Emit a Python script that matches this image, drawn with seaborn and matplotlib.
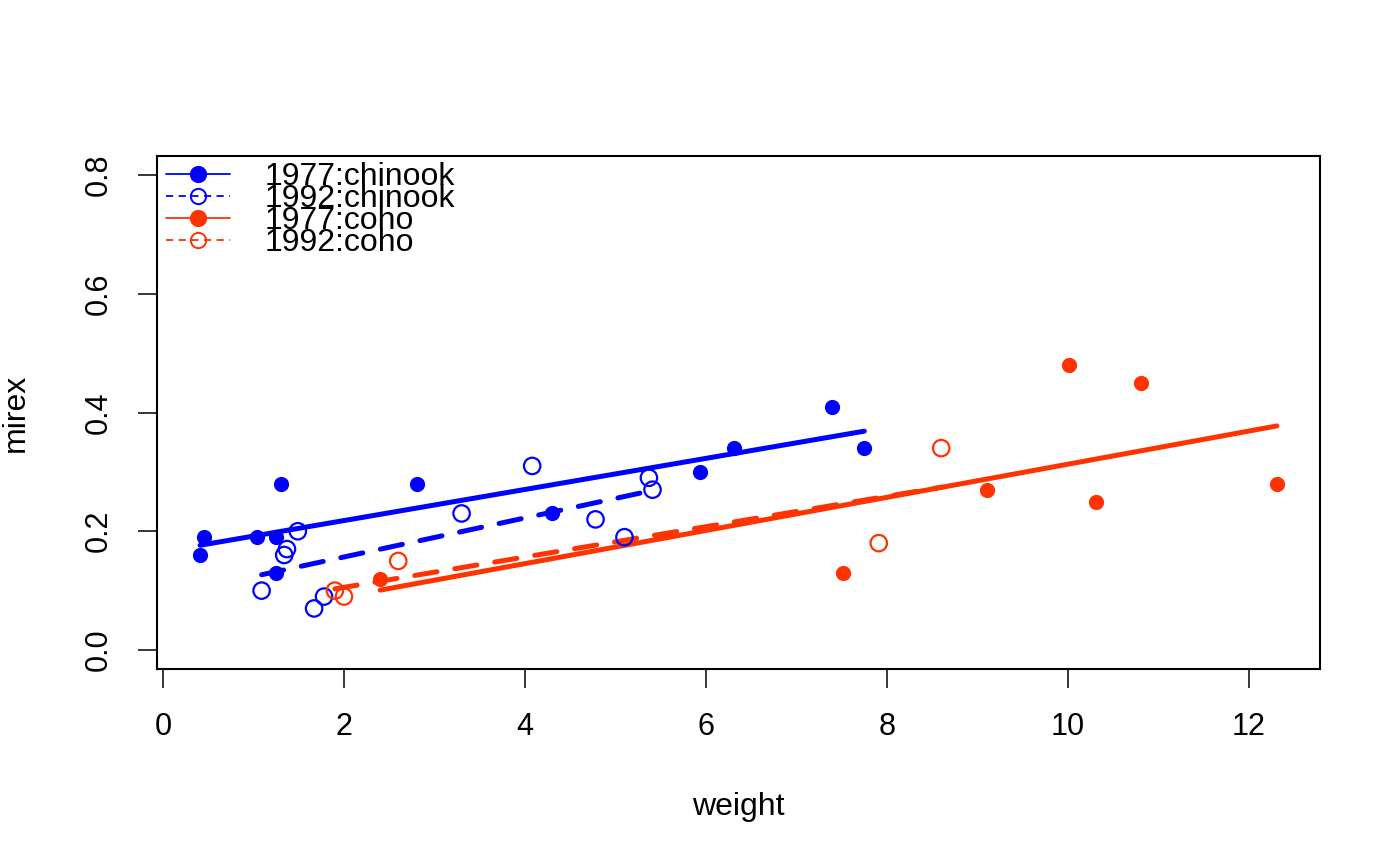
import matplotlib
matplotlib.use("Agg")
from matplotlib import pyplot as plt
from matplotlib.lines import Line2D
import seaborn as sns
import numpy as np
import pandas as pd

# values
chinook77_w = [0.41, 0.45, 1.04, 1.25, 1.30, 1.25, 2.81, 4.30, 5.93, 6.31, 7.39, 7.75]
chinook77_m = [0.16, 0.19, 0.19, 0.19, 0.28, 0.13, 0.28, 0.23, 0.30, 0.34, 0.41, 0.34]
chinook92_w = [1.09, 1.34, 1.37, 1.49, 1.67, 1.78, 3.30, 4.08, 4.78, 5.10, 5.37, 5.41]
chinook92_m = [0.10, 0.16, 0.17, 0.20, 0.07, 0.09, 0.23, 0.31, 0.22, 0.19, 0.29, 0.27]
coho77_w = [2.40, 7.51, 9.11, 10.01, 10.31, 10.81, 12.31]
coho77_m = [0.12, 0.13, 0.27, 0.48, 0.25, 0.45, 0.28]
coho92_w = [1.90, 2.00, 2.60, 7.91, 8.60]
coho92_m = [0.10, 0.09, 0.15, 0.18, 0.34]

labels = ["1977:chinook", "1992:chinook", "1977:coho", "1992:coho"]
blue = "#0000FF"
red = "#FF3300"

groups = [
    (labels[0], chinook77_w, chinook77_m, blue, True, "-"),
    (labels[1], chinook92_w, chinook92_m, blue, False, "--"),
    (labels[2], coho77_w, coho77_m, red, True, "-"),
    (labels[3], coho92_w, coho92_m, red, False, "--"),
]

sns.set_style("ticks")
plt.rcParams['font.family'] = ['Liberation Sans', 'DejaVu Sans']
plt.rcParams['text.color'] = 'black'
plt.rcParams['axes.labelcolor'] = 'black'
plt.rcParams['xtick.color'] = 'black'
plt.rcParams['ytick.color'] = 'black'

fig = plt.figure(figsize=(14, 8.66), dpi=100)
ax = fig.add_axes([157 / 1400, 1 - 669 / 866, (1320 - 157) / 1400, (669 - 156) / 866])

handles = []
for name, w, m, col, filled, ls in groups:
    df = pd.DataFrame({"weight": w, "mirex": m})
    if filled:
        sns.scatterplot(data=df, x="weight", y="mirex", ax=ax, color=col, s=120,
                        edgecolor=col, linewidth=0, zorder=3)
    else:
        sns.scatterplot(data=df, x="weight", y="mirex", ax=ax, s=140,
                        facecolor="none", edgecolor=col, linewidth=1.6, zorder=3)
    lkw = dict(color=col, lw=3.6, solid_capstyle="round", zorder=2)
    if ls == "--":
        lkw.update(linestyle=(0, (4.5, 3.6)), dash_capstyle="round")
    sns.regplot(data=df, x="weight", y="mirex", ax=ax, scatter=False, ci=None,
                line_kws=lkw)
    handles.append(Line2D([], [], color=col, lw=1.3, linestyle="-" if ls == "-" else (0, (4, 3)),
                          marker="o", markersize=11,
                          markerfacecolor=col if filled else "none",
                          markeredgecolor=col, markeredgewidth=1.4))

ax.set_xlim(0.41 - 0.04 * 11.9, 12.31 + 0.04 * 11.9)
ax.set_ylim(-0.032, 0.832)
ax.set_xticks(np.arange(0, 13, 2))
ax.set_yticks([0.0, 0.2, 0.4, 0.6, 0.8])
ax.set_yticklabels(["0.0", "0.2", "0.4", "0.6", "0.8"])

for sp in ax.spines.values():
    sp.set_visible(True)
    sp.set_linewidth(1.5)
    sp.set_color("black")

ax.tick_params(axis="both", direction="out", length=14, width=1.1, color="black",
               labelcolor="black", labelsize=22, pad=17)
ax.tick_params(axis="y", labelrotation=90)
for lab in ax.get_yticklabels():
    lab.set_va("center")

ax.set_xlabel("weight", fontsize=23, labelpad=36)
ax.set_ylabel("mirex", fontsize=23, labelpad=38)

ax.legend(handles, labels, loc="upper left", frameon=False, fontsize=23,
          handlelength=2.0, handletextpad=1.1, labelspacing=-0.25,
          borderaxespad=0.1, borderpad=0.1, bbox_to_anchor=(0.002, 1.0))

fig.savefig("out.png", dpi=100)
